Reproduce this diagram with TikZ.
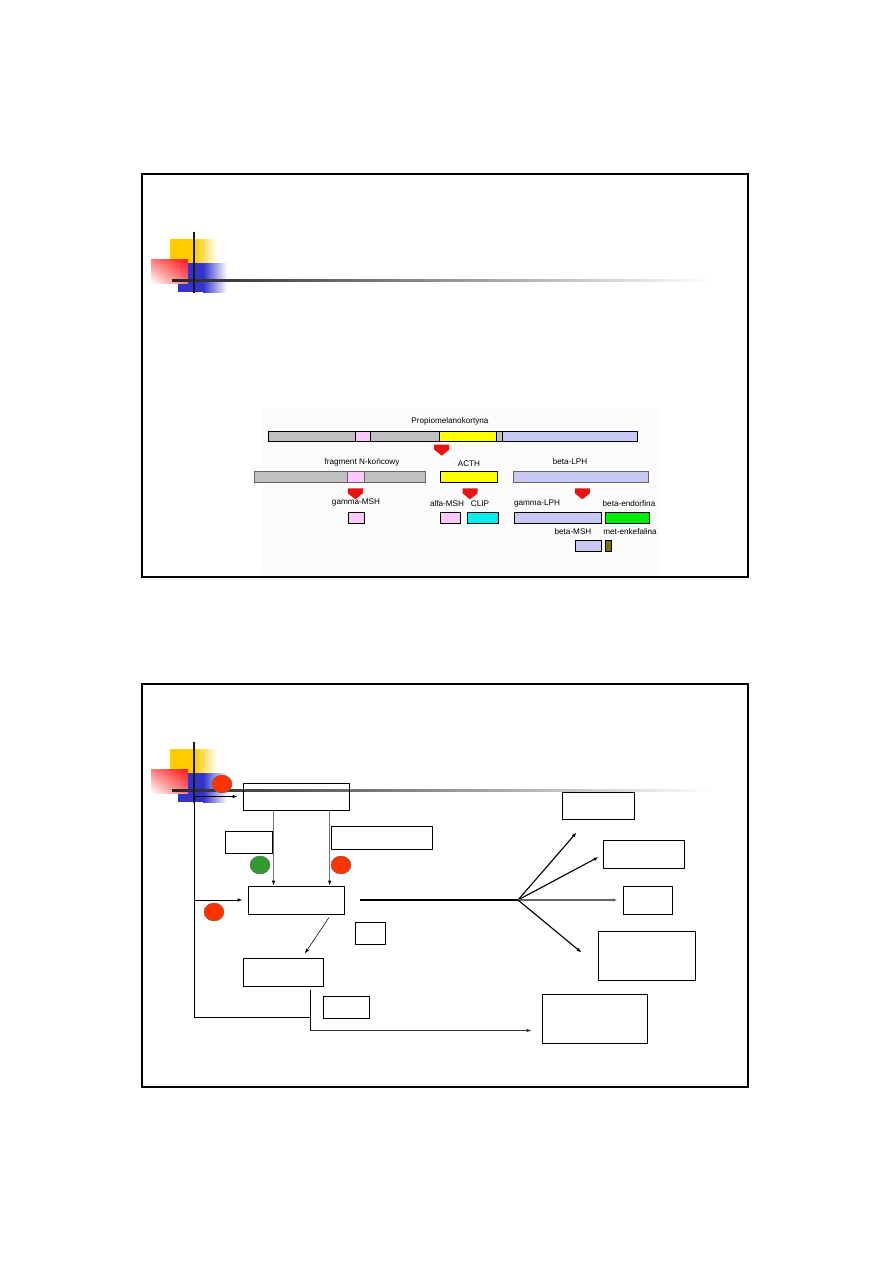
\documentclass[tikz,border=0pt]{standalone}
\usepackage{fontspec}
\setmainfont{Liberation Sans}
\usetikzlibrary{arrows.meta,calc,fit,shapes.geometric,shadings}
\definecolor{logoyellow}{RGB}{255,204,0}
\definecolor{logored}{RGB}{255,20,20}
\definecolor{logoblue}{RGB}{51,51,204}
\definecolor{dotred}{RGB}{255,51,0}
\definecolor{dotgreen}{RGB}{51,153,51}
\definecolor{bargray}{RGB}{192,192,192}
\definecolor{barpink}{RGB}{250,200,250}
\definecolor{barlav}{RGB}{200,200,245}
\definecolor{baryellow}{RGB}{255,255,0}
\definecolor{barcyan}{RGB}{0,238,238}
\definecolor{bargreen}{RGB}{0,235,0}
\definecolor{barolive}{RGB}{120,110,30}
\definecolor{cutred}{RGB}{232,20,20}

\begin{document}
\begin{tikzpicture}[x=0.025cm, y=-0.025cm,
  frame/.style={draw=black, line width=1.5pt},
  box/.style={draw=black, line width=0.7pt, inner sep=0pt},
  bar/.style={draw=black, line width=0.4pt},
  lbl/.style={font=\fontsize{5.8}{7}\selectfont, inner sep=0pt},
  dot/.style={ellipse, draw=black!60, line width=0.3pt, minimum width=0.5cm, minimum height=0.45cm, inner sep=0pt},
  wire/.style={black, line width=0.7pt},
  conn/.style={black, line width=0.6pt, -{Latex[length=3.5pt,width=2.6pt]}},
  feed/.style={black!55, line width=0.6pt, -{Latex[length=3.5pt,width=2.6pt,color=black]}},
  spoke/.style={black, line width=0.8pt, -{Latex[length=3.5pt,width=2.6pt]}},
  logo/.pic={
    \fill[logoyellow] (170,239) rectangle (195,263);
    \shade[left color=logoyellow, right color=white] (195,239) rectangle (217,263);
    \fill[logoblue] (178,263) rectangle (203,292);
    \shade[left color=logoblue, right color=white] (203,263) rectangle (227,292);
    \shade[upper left=logored!55!white, upper right=logored, lower left=white, lower right=logored!60!white] (151,259) rectangle (188,283);
    \shade[left color=black!85, middle color=black!55, right color=white] (172,279) rectangle (713,281);
    \fill[black!90] (193,232) rectangle (195,293);
  },
  cut/.pic={
    \fill[cutred] (-7.5,0) -- (7.5,0) -- (7.5,5) -- (0,11) -- (-7.5,5) -- cycle;
  },
]

\fill[white] (0,0) rectangle (893,1263);
\useasboundingbox (0,0) rectangle (893,1263);

% ---------- slide 1 ----------
\draw[frame] (142,174) rectangle (748,577);
\pic at (0,0) {logo};
\fill[black!1.2] (262,408) rectangle (660,575);

% whole precursor
\draw[bar, fill=bargray] (268,431) rectangle (355,441);
\draw[bar, fill=barpink] (355,431) rectangle (370.7,441);
\draw[bar, fill=bargray] (370.7,431) rectangle (439.3,441);
\draw[bar, fill=baryellow] (439.3,431) rectangle (496.7,441);
\draw[bar, fill=bargray] (496.7,431) rectangle (502.3,441);
\draw[bar, fill=barlav] (502.3,431) rectangle (637.3,441);
\node[lbl] (pomc) at (450,421) {Propiomelanokortyna};
\pic at (441.7,444.7) {cut};

% first cleavage
\draw[bar, draw=black!60, fill=bargray] (254,471) rectangle (347.7,482.3);
\draw[bar, draw=black!60, fill=barpink] (347.7,471) rectangle (364.3,482.3);
\draw[bar, draw=black!60, fill=bargray] (364.3,471) rectangle (425.7,482.3);
\draw[bar, fill=baryellow] (440.3,471) rectangle (497.7,482.3);
\draw[bar, draw=black!60, fill=barlav] (513.3,471) rectangle (648.3,482.3);
\node[lbl] (nterm) at (362,462) {fragment N-końcowy};
\node[lbl] (acth) at (469,464) {ACTH};
\node[lbl] (blph) at (570,462) {beta-LPH};
\pic at (355.3,488.3) {cut};
\pic at (470,488.3) {cut};
\pic at (582.3,488.3) {cut};

% second cleavage
\draw[bar, fill=barpink] (348.3,512.3) rectangle (364.7,523.3);
\draw[bar, fill=barpink] (440.3,512.3) rectangle (460.3,523.3);
\draw[bar, fill=barcyan] (467.3,512.3) rectangle (498.3,523.3);
\draw[bar, fill=barlav] (514.3,512.3) rectangle (601.7,523.3);
\draw[bar, fill=bargreen] (605.3,512.3) rectangle (649.3,523.3);
\node[lbl] (gmsh) at (356,502) {gamma-MSH};
\node[lbl] (amsh) at (447,504) {alfa-MSH};
\node[lbl] (clip) at (480,504) {CLIP};
\node[lbl] (glph) at (537,504) {gamma-LPH};
\node[lbl] (bend) at (629,504) {beta-endorfina};

% third cleavage
\draw[bar, fill=barlav] (575.7,540) rectangle (601.7,551.3);
\draw[bar, fill=barolive] (605.3,540) rectangle (611.7,551.3);
\node[lbl] (bmsh) at (573,532) {beta-MSH};
\node[lbl] (menk) at (630,532) {met-enkefalina};

% ---------- slide 2 ----------
\draw[frame] (142,684) rectangle (748,1087);
\pic at (0,510) {logo};

% boxes
\node[box, fit={(243,783) (349,810)}] (topbox) {};
\node[box, fit={(225,831) (272,853)}] (lefttag) {};
\node[box, fit={(331,826) (432,849)}] (righttag) {};
\node[box, fit={(248,886) (344,914)}] (midbox) {};
\node[box, fit={(355,922) (385,944)}] (midtag) {};
\node[box, fit={(243,958) (323,986)}] (lowbox) {};
\node[box, fit={(323,996) (369,1018)}] (lowtag) {};
\node[box, fit={(562,792) (634,819)}] (outA) {};
\node[box, fit={(603,840) (684,868)}] (outB) {};
\node[box, fit={(623,886) (672,914)}] (outC) {};
\node[box, fit={(598,931) (695,980)}] (outD) {};
\node[box, fit={(542,994) (647,1043)}] (outE) {};

% markers
\node[dot, fill=dotred] (inhA) at (222,784) {};
\node[dot, fill=dotgreen] (actA) at (260,865) {};
\node[dot, fill=dotred] (inhB) at (341,865) {};
\node[dot, fill=dotred] (inhC) at (214,912) {};

% feedback rail
\coordinate (rail) at (194,796.5);
\coordinate (railend) at (194,1017);
\coordinate (drop) at ($(lowbox.south west)!0.834!(lowbox.south east)+(0,3)$);
\draw[wire] (rail) -- (railend) -- (railend -| drop);
\draw[conn] (rail) -- ($(topbox.west)+(-5,0)$);
\draw[conn] (rail |- midbox.west) -- ($(midbox.west)+(-5,0)$);
\draw[wire] (drop) -- ++(0,41) coordinate (turn);
\draw[conn, black!80] (turn) -- ($(outE.west |- turn)+(-10,0)$);

% down the axis
\coordinate (d1) at ($(topbox.south west)!0.29!(topbox.south east)$);
\coordinate (d2) at ($(topbox.south west)!0.815!(topbox.south east)$);
\draw[feed] (d1) -- (d1 |- midbox.north);
\draw[feed] (d2) -- (d2 |- midbox.north);
\draw[conn, line width=0.4pt] ($(midbox.south west)!0.84!(midbox.south east)+(0,3)$)
  -- ($(lowbox.north west)!0.77!(lowbox.north east)+(0,-4)$);

% targets
\coordinate (hub) at (518,900);
\draw[wire, line width=0.8pt] ($(midbox.east)+(16,0)$) -- (hub);
\draw[spoke] (hub) -- ($(outA.south west)+(15,13)$);
\draw[spoke] (hub) -- ($(outB.west)+(-4,3)$);
\draw[spoke, black!60, line width=1.1pt] (hub) -- ($(outC.west)+(-5,0)$);
\draw[spoke] (hub) -- ($(outD.north west)+(-16,22)$);

\end{tikzpicture}
\end{document}
